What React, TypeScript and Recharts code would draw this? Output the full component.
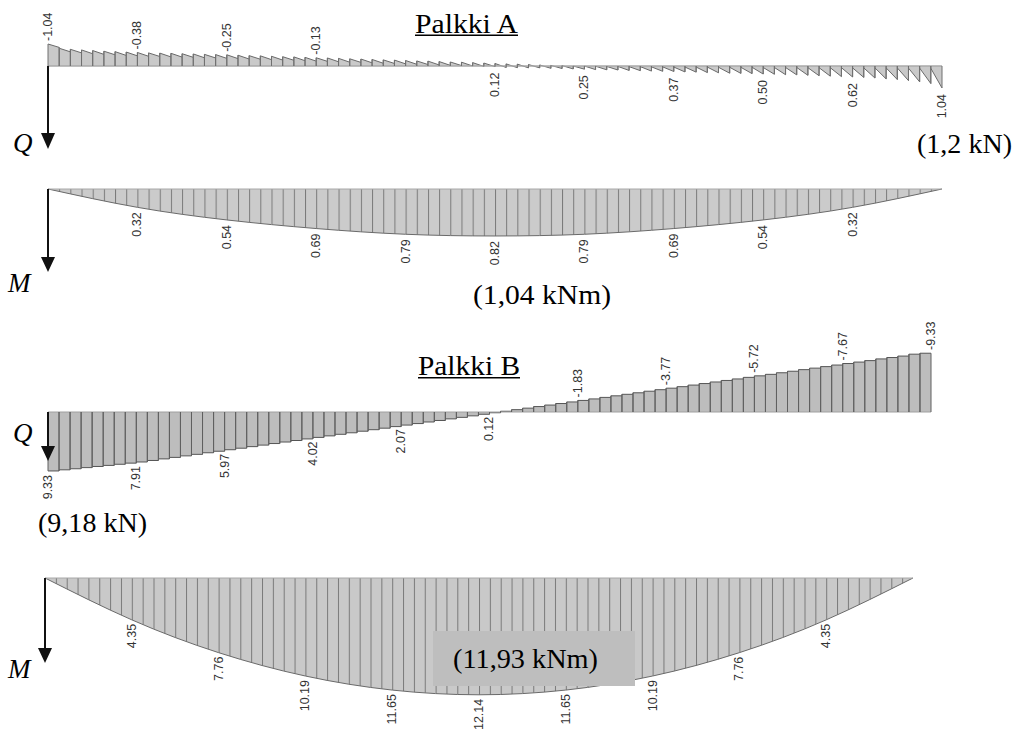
import React from 'react';
import { ComposedChart, Area, Scatter, XAxis, YAxis, ReferenceLine } from 'recharts';

const PAGE_W = 1021;
const PAGE_H = 733;
const SEGMENTS = 80;
const stations = [0, 8, 16, 24, 32, 40, 48, 56, 64, 72, 80];

// Palkki A – shear force Q (sawtooth): value at start and end of each of the 80 segments (kN)
const qaStart = [
  -1.04, -0.84, -0.79, -0.76, -0.73, -0.7, -0.68, -0.66, -0.64, -0.62,
  -0.61, -0.6, -0.58, -0.57, -0.55, -0.54, -0.53, -0.51, -0.49, -0.48,
  -0.46, -0.44, -0.43, -0.41, -0.39, -0.38, -0.36, -0.34, -0.33, -0.31,
  -0.29, -0.28, -0.26, -0.24, -0.23, -0.21, -0.19, -0.18, -0.16, -0.14,
  -0.12, -0.1, -0.09, -0.07, -0.05, -0.03, -0.02, 0.0, 0.0, 0.01,
  0.02, 0.02, 0.03, 0.03, 0.04, 0.04, 0.05, 0.05, 0.05, 0.05,
  0.06, 0.06, 0.06, 0.06, 0.07, 0.07, 0.07, 0.07, 0.08, 0.08,
  0.08, 0.08, 0.09, 0.09, 0.09, 0.09, 0.09, 0.1, 0.1, 0.11,
];
const qaEnd = [
  -0.88, -0.67, -0.62, -0.58, -0.55, -0.53, -0.5, -0.48, -0.46, -0.45,
  -0.43, -0.42, -0.41, -0.39, -0.38, -0.36, -0.35, -0.33, -0.32, -0.3,
  -0.28, -0.27, -0.25, -0.23, -0.22, -0.2, -0.18, -0.17, -0.15, -0.13,
  -0.12, -0.1, -0.08, -0.07, -0.05, -0.03, -0.02, 0.0, 0.02, 0.03,
  0.07, 0.08, 0.09, 0.09, 0.11, 0.12, 0.14, 0.15, 0.17, 0.18,
  0.19, 0.21, 0.22, 0.24, 0.25, 0.26, 0.28, 0.29, 0.31, 0.32,
  0.34, 0.35, 0.36, 0.38, 0.39, 0.41, 0.42, 0.44, 0.46, 0.48,
  0.5, 0.52, 0.54, 0.57, 0.61, 0.64, 0.69, 0.75, 0.83, 1.04,
];
const qaLabelStations = [0, 8, 16, 24, 40, 48, 56, 64, 72, 80];
const qaLabelTexts = ['-1.04', '-0.38', '-0.25', '-0.13', '0.12', '0.25', '0.37', '0.50', '0.62', '1.04'];

// Palkki A – bending moment M (kNm) at the stations
const maValues = [0, 0.32, 0.54, 0.69, 0.79, 0.82, 0.79, 0.69, 0.54, 0.32, 0];

// Palkki B – shear force Q (kN), 80 steps
const qbBars = [
  9.33, 9.15, 8.98, 8.8, 8.62, 8.45, 8.27, 8.09, 7.91, 7.67,
  7.42, 7.18, 6.94, 6.7, 6.45, 6.21, 5.97, 5.73, 5.48, 5.24,
  4.99, 4.75, 4.51, 4.26, 4.02, 3.78, 3.53, 3.29, 3.04, 2.8,
  2.56, 2.31, 2.07, 1.83, 1.58, 1.34, 1.09, 0.85, 0.61, 0.36,
  0.12, -0.12, -0.37, -0.61, -0.86, -1.1, -1.34, -1.59, -1.83, -2.07,
  -2.31, -2.56, -2.8, -3.04, -3.29, -3.53, -3.77, -4.01, -4.26, -4.5,
  -4.75, -4.99, -5.23, -5.48, -5.72, -5.96, -6.21, -6.45, -6.7, -6.94,
  -7.18, -7.43, -7.67, -7.9, -8.13, -8.4, -8.62, -8.85, -9.15, -9.3,
];
const qbLabels = [9.33, 7.91, 5.97, 4.02, 2.07, 0.12, -1.83, -3.77, -5.72, -7.67, -9.33];

// Palkki B – bending moment M (kNm)
const mbValues = [0, 4.35, 7.76, 10.19, 11.65, 12.14, 11.65, 10.19, 7.76, 4.35, 0];

type Frame = { x0: number; x1: number; base: number; scale: number; lo: number; hi: number };
const frameQA: Frame = { x0: 48, x1: 942, base: 66, scale: 21.15, lo: -1.5, hi: 1.5 };
const frameMA: Frame = { x0: 48, x1: 942, base: 189, scale: 57.3, lo: -0.3, hi: 1.1 };
const frameQB: Frame = { x0: 48, x1: 931, base: 412, scale: 6.32, lo: -10.5, hi: 10.5 };
const frameMB: Frame = { x0: 45, x1: 913, base: 578, scale: 9.62, lo: -1, hi: 13 };

const SANS = '"Liberation Sans", Arial, Helvetica, sans-serif';
const SERIF = '"Liberation Serif", "Times New Roman", Times, "DejaVu Serif", serif';

const LabelShape = (props: any) => {
  const { cx, cy } = props;
  const p = props.payload || props;
  if (cx == null || cy == null || Number.isNaN(cx) || Number.isNaN(cy)) return <g />;
  const y = p.side === 'above' ? cy - p.off : cy + p.off;
  return (
    <text
      x={cx}
      y={y}
      transform={`rotate(-90 ${cx} ${y})`}
      textAnchor={p.side === 'above' ? 'start' : 'end'}
      dominantBaseline="central"
      style={{ fontFamily: SANS, fontSize: 12.5 }}
      fill="#333"
    >
      {p.text}
    </text>
  );
};

function Panel({ f, children }: { f: Frame; children: React.ReactNode }) {
  return (
    <div style={{ position: 'absolute', left: 0, top: 0 }}>
      <ComposedChart
        width={PAGE_W}
        height={PAGE_H}
        margin={{
          left: f.x0,
          right: PAGE_W - f.x1,
          top: f.base + f.lo * f.scale,
          bottom: PAGE_H - (f.base + f.hi * f.scale),
        }}
      >
        <XAxis type="number" dataKey="x" domain={[0, SEGMENTS]} hide />
        <YAxis type="number" dataKey="y" domain={[f.lo, f.hi]} reversed hide />
        {children}
      </ComposedChart>
    </div>
  );
}

function hatch(id: string, f: Frame, fill: string) {
  const w = (f.x1 - f.x0) / SEGMENTS;
  return (
    <defs key={id}>
      <pattern id={id} patternUnits="userSpaceOnUse" x={f.x0} y={0} width={w} height={PAGE_H}>
        <rect x={0} y={0} width={w} height={PAGE_H} fill={fill} />
        <rect x={0} y={0} width={1} height={PAGE_H} fill="#7a7a7a" />
      </pattern>
    </defs>
  );
}

function verticals(prefix: string, before: (number | null)[], after: (number | null)[], stroke: string) {
  const out: React.ReactNode[] = [];
  for (let i = 0; i <= SEGMENTS; i++) {
    const a = after[i];
    const b = before[i];
    if (a != null) {
      out.push(
        <ReferenceLine key={`${prefix}a${i}`} segment={[{ x: i, y: 0 }, { x: i, y: a }]} stroke={stroke} strokeWidth={1} ifOverflow="visible" />
      );
    }
    if (b != null) {
      out.push(
        <ReferenceLine key={`${prefix}b${i}`} segment={[{ x: i, y: 0 }, { x: i, y: b }]} stroke={stroke} strokeWidth={1} ifOverflow="visible" />
      );
    }
  }
  return out;
}

export default function App() {
  const qaPoints = qaStart.flatMap((s, i) => [
    { x: i, y: s },
    { x: i + 1, y: qaEnd[i] },
  ]);
  const qaLabels = qaLabelStations.map((st, k) => {
    const above = qaLabelTexts[k].startsWith('-');
    return {
      x: st,
      y: above ? qaStart[st] : qaEnd[st - 1],
      text: qaLabelTexts[k],
      side: above ? 'above' : 'below',
      off: above ? 3 : 6,
    };
  });
  const qaAfter = Array.from({ length: SEGMENTS + 1 }, (_, i) => (i < SEGMENTS ? qaStart[i] : null));
  const qaBefore = Array.from({ length: SEGMENTS + 1 }, (_, i) => (i > 0 ? qaEnd[i - 1] : null));

  const maPoints = stations.map((st, k) => ({ x: st, y: maValues[k] }));
  const maLabels = stations
    .map((st, k) => ({ x: st, y: maValues[k], text: maValues[k].toFixed(2), side: 'below', off: 5 }))
    .filter((d, k) => k > 0 && k < stations.length - 1);

  const qbPoints = [...qbBars.map((v, i) => ({ x: i, y: v })), { x: SEGMENTS, y: qbBars[SEGMENTS - 1] }];
  const qbLabelPts = stations.map((st, k) => ({
    x: st,
    y: qbLabels[k],
    text: qbLabels[k].toFixed(2),
    side: qbLabels[k] < 0 ? 'above' : 'below',
    off: qbLabels[k] < 0 ? 3 : 4,
  }));
  const qbAfter = Array.from({ length: SEGMENTS + 1 }, (_, i) => (i < SEGMENTS ? qbBars[i] : null));
  const qbBefore = Array.from({ length: SEGMENTS + 1 }, (_, i) => (i > 0 ? qbBars[i - 1] : null));

  const mbPoints = stations.map((st, k) => ({ x: st, y: mbValues[k] }));
  const mbLabels = stations
    .map((st, k) => ({ x: st, y: mbValues[k], text: mbValues[k].toFixed(2), side: 'below', off: 4 }))
    .filter((d, k) => k > 0 && k < stations.length - 1);

  const serif = (size: number, italic = false): React.CSSProperties => ({
    fontFamily: SERIF,
    fontSize: size,
    fontStyle: italic ? 'italic' : 'normal',
  });

  return (
    <div style={{ position: 'absolute', left: 0, top: 0, width: PAGE_W, height: PAGE_H, background: '#fff', overflow: 'hidden' }}>
      <Panel f={frameQA}>
        {[
          <ReferenceLine key="base" y={0} stroke="#a8a8a8" strokeWidth={1.5} />,
          <Area key="qa" type="linear" data={qaPoints} dataKey="y" baseValue={0} fill="#c9c9c9" fillOpacity={1} stroke="#6a6a6a" strokeWidth={1} dot={false} activeDot={false} isAnimationActive={false} />,
          ...verticals('qa', qaBefore, qaAfter, '#707070'),
          <Scatter key="qal" data={qaLabels} dataKey="y" shape={LabelShape} isAnimationActive={false} />,
        ]}
      </Panel>
      <Panel f={frameMA}>
        {[
          hatch('hatchMA', frameMA, '#cbcbcb'),
          <ReferenceLine key="base" y={0} stroke="#a8a8a8" strokeWidth={1} />,
          <Area key="ma" type="natural" data={maPoints} dataKey="y" baseValue={0} fill="url(#hatchMA)" fillOpacity={1} stroke="#6a6a6a" strokeWidth={1} dot={false} activeDot={false} isAnimationActive={false} />,
          <Scatter key="mal" data={maLabels} dataKey="y" shape={LabelShape} isAnimationActive={false} />,
        ]}
      </Panel>
      <Panel f={frameQB}>
        {[
          <ReferenceLine key="base" y={0} stroke="#a0a0a0" strokeWidth={1} />,
          <Area key="qb" type="stepAfter" data={qbPoints} dataKey="y" baseValue={0} fill="#bdbdbd" fillOpacity={1} stroke="#555" strokeWidth={1} dot={false} activeDot={false} isAnimationActive={false} />,
          ...verticals('qb', qbBefore, qbAfter, '#606060'),
          <Scatter key="qbl" data={qbLabelPts} dataKey="y" shape={LabelShape} isAnimationActive={false} />,
        ]}
      </Panel>
      <Panel f={frameMB}>
        {[
          hatch('hatchMB', frameMB, '#c9c9c9'),
          <ReferenceLine key="base" y={0} stroke="#a8a8a8" strokeWidth={1} />,
          <Area key="mb" type="natural" data={mbPoints} dataKey="y" baseValue={0} fill="url(#hatchMB)" fillOpacity={1} stroke="#6a6a6a" strokeWidth={1} dot={false} activeDot={false} isAnimationActive={false} />,
          <Scatter key="mbl" data={mbLabels} dataKey="y" shape={LabelShape} isAnimationActive={false} />,
        ]}
      </Panel>

      <svg width={PAGE_W} height={PAGE_H} style={{ position: 'absolute', left: 0, top: 0 }}>
        {/* arrows */}
        <line x1={48} y1={66} x2={48} y2={135} stroke="#111" strokeWidth={2} />
        <polygon points="41,133 55,133 48,149" fill="#111" />
        <line x1={48} y1={189} x2={48} y2={259} stroke="#111" strokeWidth={2} />
        <polygon points="41,257 55,257 48,272" fill="#111" />
        <line x1={48} y1={412} x2={48} y2={448} stroke="#111" strokeWidth={2} />
        <polygon points="41,446 55,446 48,461" fill="#111" />
        <line x1={45} y1={578} x2={45} y2={650} stroke="#111" strokeWidth={2} />
        <polygon points="38,648 52,648 45,663" fill="#111" />

        {/* titles and notes */}
        <g fill="#000">
          <text x={415} y={33} style={serif(27)} textLength={103} lengthAdjust="spacingAndGlyphs">Palkki A</text>
          <rect x={415} y={34.5} width={103} height={1.5} />
          <text x={917} y={152.5} style={serif(27)} textLength={95} lengthAdjust="spacingAndGlyphs">(1,2 kN)</text>
          <text x={13} y={152} style={serif(27, true)}>Q</text>
          <text x={8} y={292} style={serif(27, true)}>M</text>
          <text x={473} y={303.5} style={serif(28)} textLength={138} lengthAdjust="spacingAndGlyphs">(1,04 kNm)</text>

          <text x={418} y={375} style={serif(27)} textLength={102} lengthAdjust="spacingAndGlyphs">Palkki B</text>
          <rect x={418} y={377} width={102} height={1.5} />
          <text x={13} y={442} style={serif(27, true)}>Q</text>
          <text x={38} y={532} style={serif(27)} textLength={109} lengthAdjust="spacingAndGlyphs">(9,18 kN)</text>
        </g>

        <rect x={433} y={631} width={202} height={55} fill="#bebebe" />
        <text x={453} y={668} fill="#000" style={serif(28)} textLength={145} lengthAdjust="spacingAndGlyphs">(11,93 kNm)</text>
        <text x={8} y={678} fill="#000" style={serif(27, true)}>M</text>
      </svg>
    </div>
  );
}
